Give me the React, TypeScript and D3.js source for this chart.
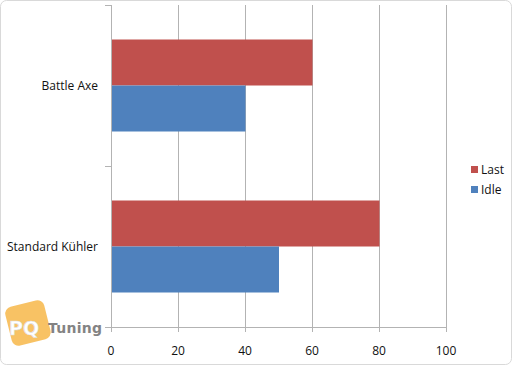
import { useRef, useEffect } from "react";
import * as d3 from "d3";

const CATEGORIES = ["Battle Axe", "Standard Kühler"];
const SERIES = ["Last", "Idle"];
const LAST_VALUES = [60, 80];
const IDLE_VALUES = [40, 50];
const X_TICKS = [0, 20, 40, 60, 80, 100];

const COLORS: Record<string, string> = { Last: "#C0504D", Idle: "#4F81BD" };
const FONT = "'Open Sans', 'Noto Sans', sans-serif";

const WIDTH = 512;
const HEIGHT = 365;
const PLOT = { left: 111, right: 446, top: 5, bottom: 327 };

export default function App() {
  const svgRef = useRef<SVGSVGElement>(null);

  useEffect(() => {
    if (!svgRef.current) return;
    const svg = d3.select(svgRef.current);
    svg.selectAll("*").remove();

    // outer frame
    svg.append("rect")
      .attr("x", 0.5).attr("y", 0.5)
      .attr("width", WIDTH - 1).attr("height", HEIGHT - 1)
      .attr("rx", 6)
      .attr("fill", "#fff")
      .attr("stroke", "#d9d9d9");

    const x = d3.scaleLinear().domain([0, 100]).range([PLOT.left, PLOT.right]);
    const y = d3.scaleBand<string>().domain(CATEGORIES).range([PLOT.top, PLOT.bottom]).padding(0);
    const inner = d3.scaleBand<string>().domain(SERIES)
      .range([0, y.bandwidth()]).paddingOuter(0.75).paddingInner(0);

    // gridlines + value ticks
    const grid = svg.append("g");
    X_TICKS.forEach((t) => {
      grid.append("line")
        .attr("x1", x(t) + 0.5).attr("x2", x(t) + 0.5)
        .attr("y1", PLOT.top).attr("y2", PLOT.bottom + 5)
        .attr("stroke", "#b3b3b3");
      grid.append("text")
        .attr("x", x(t)).attr("y", PLOT.bottom + 28)
        .attr("text-anchor", "middle")
        .attr("font-family", FONT).attr("font-size", 12)
        .attr("fill", "#111")
        .text(t);
    });

    // bottom axis line
    svg.append("line")
      .attr("x1", PLOT.left).attr("x2", PLOT.right + 0.5)
      .attr("y1", PLOT.bottom + 0.5).attr("y2", PLOT.bottom + 0.5)
      .attr("stroke", "#b3b3b3");

    // category axis ticks
    const catTicks = [PLOT.top, ...CATEGORIES.map((c) => (y(c) as number) + y.bandwidth())];
    catTicks.forEach((ty) => {
      svg.append("line")
        .attr("x1", PLOT.left - 6).attr("x2", PLOT.left)
        .attr("y1", ty + 0.5).attr("y2", ty + 0.5)
        .attr("stroke", "#b3b3b3");
    });

    // bars
    const rows = CATEGORIES.map((c, i) => ({ cat: c, Last: LAST_VALUES[i], Idle: IDLE_VALUES[i] }));
    rows.forEach((r) => {
      SERIES.forEach((s) => {
        svg.append("rect")
          .attr("x", x(0) + 0.5)
          .attr("y", (y(r.cat) as number) + (inner(s) as number))
          .attr("width", x(r[s as "Last" | "Idle"]) - x(0))
          .attr("height", inner.bandwidth())
          .attr("fill", COLORS[s]);
      });
      svg.append("text")
        .attr("x", PLOT.left - 13)
        .attr("y", (y(r.cat) as number) + y.bandwidth() / 2)
        .attr("dy", "0.35em")
        .attr("text-anchor", "end")
        .attr("font-family", FONT).attr("font-size", 12)
        .attr("fill", "#111")
        .text(r.cat);
    });

    // category axis line
    svg.append("line")
      .attr("x1", PLOT.left + 0.5).attr("x2", PLOT.left + 0.5)
      .attr("y1", PLOT.top).attr("y2", PLOT.bottom + 0.5)
      .attr("stroke", "#b3b3b3");

    // legend
    const legend = svg.append("g").attr("transform", "translate(471,170)");
    SERIES.forEach((s, i) => {
      legend.append("rect")
        .attr("x", 0).attr("y", i * 20 - 4)
        .attr("width", 7).attr("height", 7)
        .attr("fill", COLORS[s]);
      legend.append("text")
        .attr("x", 10).attr("y", i * 20)
        .attr("dy", "0.35em")
        .attr("font-family", FONT).attr("font-size", 12)
        .attr("fill", "#111")
        .text(s);
    });

    // watermark logo
    const logo = svg.append("g").attr("opacity", 0.85);
    logo.append("rect")
      .attr("x", 8).attr("y", 303).attr("width", 40).attr("height", 40)
      .attr("rx", 7)
      .attr("transform", "rotate(-14 28 323)")
      .attr("fill", "#f7b84a");
    logo.append("text")
      .attr("x", 9).attr("y", 335)
      .attr("font-family", "'DejaVu Sans', sans-serif").attr("font-weight", "bold")
      .attr("font-size", 19).attr("fill", "#fff")
      .attr("stroke", "#d8d8d8").attr("stroke-width", 0.6)
      .text("PQ");
    logo.append("text")
      .attr("x", 48).attr("y", 333)
      .attr("font-family", "'DejaVu Sans', sans-serif").attr("font-weight", "bold")
      .attr("font-size", 14).attr("fill", "#6e6e6e")
      .attr("textLength", 54)
      .text("Tuning");
  }, []);

  return (
    <div style={{ position: "absolute", left: 0, top: 0 }}>
      <svg ref={svgRef} width={WIDTH} height={HEIGHT} viewBox={`0 0 ${WIDTH} ${HEIGHT}`} />
    </div>
  );
}
